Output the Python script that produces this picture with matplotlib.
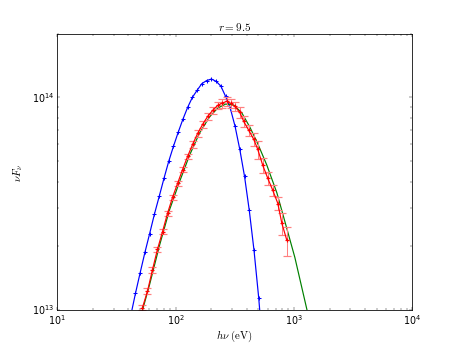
import matplotlib
matplotlib.use("Agg")
import matplotlib.pyplot as plt
import numpy as np

plt.style.use('classic')

# Blue spectrum (eV, nu F_nu)
blue_x = [41.7, 45.8, 50.2, 55.1, 60.4, 66.2, 72.7, 79.8, 87.5, 95.9, 105.2, 115.3,
          126.5, 138.7, 152.1, 166.7, 182.8, 200.9, 220.3, 241.5, 264.9, 290.4,
          318.4, 349.1, 382.8, 419.8, 460.3, 504.7, 553.0]
blue_y = [9.3e12, 1.19e13, 1.49e13, 1.86e13, 2.28e13, 2.81e13, 3.41e13, 4.15e13, 4.99e13,
          5.87e13, 6.84e13, 7.88e13, 8.97e13, 1.00e14, 1.08e14, 1.16e14, 1.20e14,
          1.22e14, 1.19e14, 1.13e14, 1.01e14, 8.87e13, 7.30e13, 5.68e13, 4.24e13,
          2.93e13, 1.90e13, 1.13e13, 6.0e12]

# Red data with error bars
red_x = [52.5, 57.9, 63.8, 70.3, 77.6, 85.5, 94.3, 104.0, 114.6, 126.4, 139.3,
         153.6, 169.4, 186.7, 205.9, 227.0, 245.5, 270.6, 292.6, 316.4, 348.8,
         377.0, 415.5, 458.0, 495.0, 546.0, 602.0, 664.0, 732.0, 791.0, 872.0]
red_y = [1.02e13, 1.22e13, 1.54e13, 1.92e13, 2.33e13, 2.84e13, 3.38e13, 3.93e13,
         4.57e13, 5.27e13, 6.00e13, 6.76e13, 7.46e13, 8.13e13, 8.68e13, 9.17e13,
         9.37e13, 9.58e13, 9.37e13, 9.07e13, 8.50e13, 7.70e13, 6.99e13, 6.34e13,
         5.69e13, 4.78e13, 4.15e13, 3.64e13, 3.16e13, 2.55e13, 2.12e13]
red_rel_err = [0.03, 0.03, 0.03, 0.03, 0.03, 0.03, 0.03, 0.03, 0.03, 0.03, 0.035,
               0.035, 0.035, 0.04, 0.04, 0.04, 0.045, 0.05, 0.05, 0.05, 0.06,
               0.06, 0.06, 0.07, 0.10, 0.08, 0.07, 0.06, 0.07, 0.12, 0.16]

# Green model curve
green_x = [49.5, 60.3, 73.1, 88.9, 108.0, 131.5, 159.7, 194.0, 227.0, 265.0,
           310.0, 363.0, 424.0, 495.0, 590.0, 718.0, 839.0, 1019.0, 1288.0, 1368.0]
green_y = [8.8e12, 1.31e13, 2.00e13, 2.95e13, 4.00e13, 5.35e13, 6.80e13, 8.10e13,
           8.90e13, 9.30e13, 9.20e13, 8.45e13, 7.25e13, 6.05e13, 4.80e13, 3.55e13,
           2.60e13, 1.76e13, 1.00e13, 8.68e12]

fig = plt.figure(figsize=(8, 6.026), dpi=57.25)
ax = fig.add_subplot(111)

ax.plot(blue_x, blue_y, color='b', marker='+', markersize=6, mew=1.3, lw=1.5)
ax.plot(green_x, green_y, color='g', lw=1.5)
red_err = [y * e for y, e in zip(red_y, red_rel_err)]
ax.errorbar(red_x, red_y, yerr=red_err, color='r', marker='+', markersize=5,
            mew=1.5, lw=1.5, ecolor=(1, 0.5, 0.5), elinewidth=1.3, capsize=5,
            capthick=1.3)

ax.set_xscale('log')
ax.set_yscale('log')
ax.set_xlim(10, 1e4)
ax.set_ylim(1e13, 2e14)
ax.set_title(r'$r=9.5$', fontsize=14, pad=5)
ax.set_xlabel(r'$h\nu\ (\mathrm{eV})$', fontsize=13.5, labelpad=1)
ax.set_ylabel(r'$\nu F_\nu$', fontsize=13.5, labelpad=8)

fig.savefig('out.png', dpi=57.25)
